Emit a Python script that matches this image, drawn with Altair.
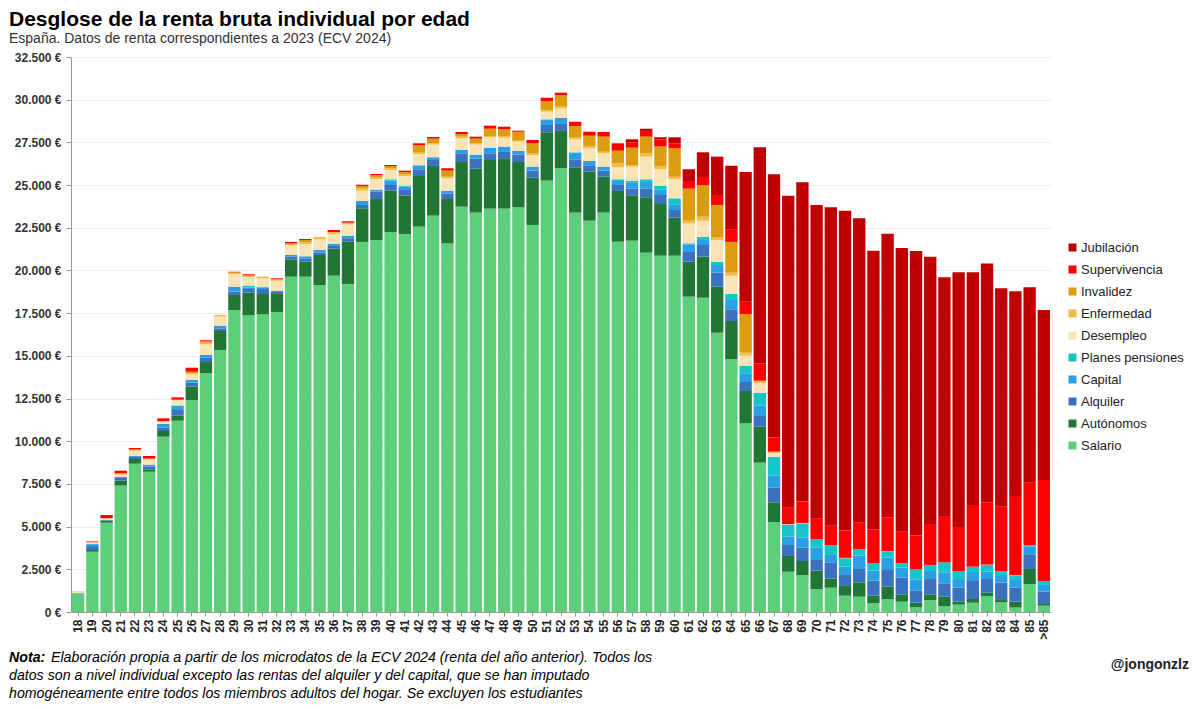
import altair as alt
import pandas as pd

FONT = "Liberation Sans"

ages = [str(a) for a in range(18, 86)] + [">85"]

salario = [1050, 3530, 5230, 7400, 8685, 8215, 10265, 11200, 12415, 13980, 15345, 17685,
           17390, 17430, 17570, 19635, 19635, 19150, 19695, 19210, 21670, 21785, 22250, 22135,
           22565, 23210, 21590, 23735, 23385, 23620, 23620, 23700, 22665, 25260, 25985, 23385,
           22915, 23385, 21685, 21745, 21040, 20865, 20865, 18465, 18405, 16355, 14815, 11050,
           8745, 5270, 2360, 2165, 1345, 1425, 955, 895, 510, 745, 605, 275,
           700, 350, 430, 545, 935, 565, 260, 1640, 370]
autonomos = [0, 100, 100, 290, 275, 140, 335, 300, 780, 660, 1110, 880,
             1310, 1190, 1050, 1015, 880, 1755, 1580, 2475, 1970, 2400, 2420, 2245,
             2965, 2910, 2595, 2615, 2575, 2850, 2950, 2650, 2770, 2830, 2185, 2655,
             2870, 2105, 2970, 2655, 3245, 3025, 2225, 2050, 2405, 2695, 2225, 1890,
             2105, 1155, 920, 820, 1075, 525, 570, 845, 445, 735, 430, 270,
             335, 545, 175, 215, 195, 135, 345, 880, 100]
alquiler = [20, 230, 40, 160, 120, 155, 190, 330, 235, 275, 155, 195,
            215, 295, 120, 160, 195, 135, 160, 200, 195, 430, 335, 330,
            395, 350, 330, 510, 585, 390, 370, 430, 410, 430, 450, 470,
            375, 355, 350, 390, 505, 530, 450, 565, 680, 820, 685, 530,
            630, 855, 645, 780, 625, 960, 640, 780, 880, 980, 975, 725,
            895, 785, 820, 1055, 800, 1015, 820, 820, 720]
capital = [20, 110, 20, 70, 55, 115, 220, 250, 155, 135, 155, 290,
           75, 95, 75, 95, 120, 160, 135, 150, 235, 115, 250, 195,
           235, 160, 155, 195, 235, 310, 315, 220, 235, 330, 325, 390,
           250, 235, 235, 375, 390, 330, 335, 450, 295, 450, 545, 510,
           625, 700, 485, 610, 720, 430, 490, 780, 585, 720, 585, 640,
           470, 645, 505, 525, 430, 450, 450, 485, 390]
planes = [20, 20, 0, 0, 10, 0, 10, 20, 0, 0, 0, 0,
          120, 40, 0, 0, 0, 0, 0, 0, 0, 0, 85, 60,
          0, 0, 0, 0, 0, 0, 0, 0, 0, 0, 0, 20,
          0, 0, 100, 95, 160, 195, 350, 60, 175, 175, 350, 445,
          735, 1115, 685, 820, 490, 565, 490, 370, 430, 350, 255, 590,
          355, 585, 470, 315, 390, 235, 250, 100, 235]
desempleo = [60, 70, 100, 120, 290, 315, 125, 315, 335, 625, 530, 745,
             490, 490, 585, 570, 720, 625, 565, 665, 600, 625, 540, 565,
             660, 740, 745, 685, 590, 630, 525, 540, 680, 450, 550, 760,
             745, 780, 700, 820, 1325, 980, 1130, 1170, 955, 1290, 1075, 585,
             550, 195, 30, 20, 0, 0, 0, 0, 0, 0, 0, 0,
             0, 0, 0, 0, 0, 0, 0, 0, 0]
enfermedad = [20, 20, 0, 50, 50, 30, 20, 20, 60, 95, 80, 50,
              60, 45, 80, 75, 100, 115, 115, 100, 140, 100, 105, 120,
              80, 80, 75, 95, 80, 75, 95, 100, 100, 100, 135, 100,
              135, 95, 235, 95, 195, 195, 135, 155, 235, 155, 175, 175,
              155, 100, 25, 0, 0, 0, 25, 0, 0, 25, 0, 0,
              0, 0, 0, 0, 25, 0, 25, 0, 0]
invalidez = [10, 10, 0, 50, 45, 20, 20, 0, 90, 80, 20, 50,
             60, 50, 0, 40, 135, 20, 0, 0, 140, 120, 115, 115,
             430, 270, 355, 155, 270, 425, 390, 485, 585, 525, 645, 680,
             600, 880, 740, 1015, 975, 1135, 1665, 1875, 1835, 1895, 1800, 2250,
             0, 0, 0, 0, 0, 0, 0, 0, 0, 0, 0, 0,
             0, 0, 0, 0, 0, 0, 0, 0, 0]
supervivencia = [0, 40, 190, 135, 75, 145, 155, 135, 235, 60, 0, 30,
                 55, 0, 60, 80, 60, 0, 120, 80, 70, 75, 75, 80,
                 115, 95, 140, 120, 115, 180, 155, 60, 195, 190, 135, 250,
                 235, 275, 430, 295, 335, 425, 290, 450, 490, 585, 720, 735,
                 1020, 840, 960, 1265, 1210, 1150, 1600, 1560, 1995, 1995, 1855, 1990,
                 2400, 2710, 2580, 3610, 3650, 3765, 4645, 3645, 5915]
jubilacion = [0, 0, 0, 0, 0, 0, 0, 0, 0, 0, 0, 0,
              0, 0, 0, 0, 0, 0, 0, 0, 0, 0, 0, 0,
              0, 0, 0, 0, 0, 0, 0, 0, 0, 0, 0, 0,
              0, 0, 0, 195, 130, 120, 355, 685, 1445, 2245, 3745, 7595,
              12650, 15400, 18270, 18680, 18370, 18645, 18720, 17825, 16315, 16595, 16610, 16650,
              15655, 13980, 14910, 13625, 13980, 12790, 11990, 11445, 9955]

series_names = ["Salario", "Autónomos", "Alquiler", "Capital", "Planes pensiones",
                "Desempleo", "Enfermedad", "Invalidez", "Supervivencia", "Jubilación"]
series_values = [salario, autonomos, alquiler, capital, planes,
                 desempleo, enfermedad, invalidez, supervivencia, jubilacion]
series_colors = ["#5dcf7a", "#217535", "#3c72bd", "#2b9fe3", "#16c6c6",
                 "#fae3b4", "#f4bb45", "#dc9c0f", "#ff0000", "#c00000"]

rows = []
for idx, (name, vals) in enumerate(zip(series_names, series_values)):
    for age, v in zip(ages, vals):
        rows.append({"edad": age, "serie": name, "valor": v, "idx": idx})
df = pd.DataFrame(rows)

legend_order = series_names[::-1]
legend_colors = series_colors[::-1]

bars = alt.Chart(df).mark_bar(strokeWidth=0).encode(
    x=alt.X("edad:N", sort=ages,
            scale=alt.Scale(paddingInner=0.13, paddingOuter=0.07),
            axis=alt.Axis(title=None, labelAngle=-90, labelFontSize=12, labelFontWeight="bold",
                          labelColor="#222222", labelFont=FONT, tickSize=4, tickColor="#999999",
                          domainColor="#999999", labelPadding=3, grid=False)),
    y=alt.Y("valor:Q", stack="zero",
            scale=alt.Scale(domain=[0, 32500], nice=False),
            axis=alt.Axis(title=None, values=list(range(0, 32501, 2500)),
                          labelExpr="replace(format(datum.value, ',.0f'), ',', '.') + ' €'",
                          labelFontSize=12, labelFontWeight="bold", labelColor="#333333",
                          labelFont=FONT, tickSize=5, tickColor="#999999", domainColor="#999999",
                          labelPadding=5, grid=True, gridColor="#eeeeee")),
    color=alt.Color("serie:N", title=None,
                    scale=alt.Scale(domain=legend_order, range=legend_colors),
                    legend=alt.Legend(orient="none", legendX=995, legendY=184,
                                      symbolType="square", symbolSize=64, symbolStrokeWidth=0,
                                      labelFontSize=13, labelFont=FONT, labelColor="#222222",
                                      rowPadding=8, padding=0, labelOffset=2)),
    order=alt.Order("idx:Q", sort="ascending"),
)


def txt(text, x, y, size, weight="normal", style="normal", align="left", color="#000000"):
    return alt.Chart(pd.DataFrame({"t": [text]})).mark_text(
        align=align, baseline="alphabetic", fontSize=size, fontWeight=weight,
        fontStyle=style, font=FONT, color=color
    ).encode(x=alt.value(x), y=alt.value(y), text="t:N")


title = txt("Desglose de la renta bruta individual por edad", -62, -31, 21, weight="bold")
subtitle = txt("España. Datos de renta correspondientes a 2023 (ECV 2024)", -62, -14, 14, color="#333333")
nota_b = txt("Nota:", -62, 605, 14.2, weight="bold", style="italic")
nota1 = txt("Elaboración propia a partir de los microdatos de la ECV 2024 (renta del año anterior). Todos los",
            -20, 605, 14.2, style="italic")
nota2 = txt("datos son a nivel individual excepto las rentas del alquiler y del capital, que se han imputado",
            -62, 623, 14.2, style="italic")
nota3 = txt("homogéneamente entre todos los miembros adultos del hogar. Se excluyen los estudiantes",
            -62, 641, 14.2, style="italic")
handle = txt("@jongonzlz", 1118, 612, 14, weight="bold", align="right", color="#222222")

chart = alt.layer(bars, title, subtitle, nota_b, nota1, nota2, nota3, handle).properties(
    width=980, height=555,
    autosize=alt.AutoSizeParams(type="none"),
    padding={"left": 63, "top": 49, "right": 141, "bottom": 89},
).configure_view(strokeWidth=0)

chart.save("out.html", embed_options={"renderer": "svg", "actions": False})
